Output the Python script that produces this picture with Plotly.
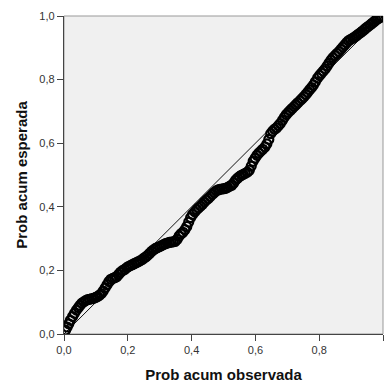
import plotly.graph_objects as go

obs = [0.005,0.010,0.015,0.020,0.027,0.033,0.039,0.045,0.050,0.056,0.062,0.068,0.074,0.080,0.087,0.093,0.099,0.105,0.111,0.117,
       0.123,0.129,0.135,0.141,0.147,0.153,0.159,0.165,0.171,0.177,0.183,0.190,0.196,0.202,0.208,0.214,0.220,0.226,0.232,0.238,
       0.245,0.251,0.257,0.263,0.269,0.275,0.281,0.287,0.293,0.300,0.306,0.312,0.318,0.324,0.330,0.336,0.342,0.348,0.355,0.361,
       0.367,0.373,0.379,0.385,0.391,0.397,0.403,0.410,0.416,0.422,0.428,0.434,0.440,0.446,0.452,0.458,0.465,0.471,0.477,0.483,
       0.489,0.495,0.501,0.507,0.513,0.520,0.526,0.532,0.538,0.544,0.550,0.556,0.562,0.568,0.575,0.581,0.587,0.593,0.599,0.605,
       0.611,0.617,0.623,0.630,0.636,0.642,0.648,0.654,0.660,0.666,0.672,0.678,0.685,0.691,0.697,0.703,0.709,0.715,0.721,0.727,
       0.733,0.740,0.746,0.752,0.758,0.764,0.770,0.776,0.782,0.788,0.795,0.801,0.807,0.813,0.819,0.825,0.831,0.837,0.843,0.850,
       0.856,0.862,0.868,0.874,0.880,0.886,0.892,0.898,0.905,0.911,0.917,0.923,0.929,0.935,0.941,0.947,0.953,0.960,0.966,0.972,
       0.978,0.984,0.990,0.996]

esp = [0.012,0.022,0.032,0.043,0.055,0.065,0.075,0.083,0.090,0.097,0.101,0.105,0.108,0.109,0.111,0.112,0.115,0.118,0.122,0.127,
       0.135,0.145,0.155,0.165,0.172,0.175,0.177,0.180,0.187,0.194,0.199,0.203,0.208,0.212,0.215,0.218,0.221,0.224,0.227,0.230,
       0.234,0.239,0.243,0.248,0.254,0.260,0.265,0.269,0.272,0.275,0.278,0.281,0.284,0.286,0.288,0.289,0.290,0.291,0.298,0.308,
       0.315,0.320,0.328,0.338,0.352,0.366,0.376,0.384,0.391,0.397,0.402,0.408,0.415,0.421,0.426,0.432,0.439,0.445,0.450,0.453,
       0.455,0.456,0.457,0.458,0.461,0.465,0.468,0.475,0.484,0.490,0.495,0.499,0.502,0.505,0.509,0.515,0.528,0.543,0.553,0.562,
       0.569,0.575,0.581,0.588,0.598,0.612,0.630,0.638,0.644,0.648,0.655,0.662,0.672,0.682,0.690,0.697,0.703,0.709,0.715,0.721,
       0.727,0.734,0.740,0.746,0.753,0.760,0.768,0.775,0.783,0.793,0.805,0.813,0.820,0.827,0.834,0.843,0.852,0.861,0.869,0.876,
       0.882,0.888,0.895,0.902,0.909,0.916,0.922,0.926,0.930,0.934,0.938,0.943,0.947,0.952,0.957,0.962,0.967,0.972,0.977,0.982,
       0.987,0.991,0.995,0.998]

ref_line = [0.0, 1.0]
tick_vals = [0.0, 0.2, 0.4, 0.6, 0.8, 1.0]
tick_text = ["0,0", "0,2", "0,4", "0,6", "0,8", "1,0"]

n = min(len(obs), len(esp))
fig = go.Figure()
fig.add_trace(go.Scatter(x=ref_line, y=ref_line, mode="lines", cliponaxis=True,
                         line=dict(color="#111111", width=1), hoverinfo="skip"))
fig.add_trace(go.Scatter(x=obs[:n], y=esp[:n], mode="markers", cliponaxis=True,
                         marker=dict(symbol="circle-open", size=9, color="black",
                                     line=dict(color="black", width=2.2))))

axis_common = dict(range=[0, 1], tickvals=tick_vals, ticktext=tick_text, automargin=False,
                   ticks="outside", ticklen=6, tickwidth=1.3, tickcolor="#444444",
                   showgrid=False, zeroline=False, showline=True, linecolor="#444444",
                   linewidth=1.3, tickfont=dict(family="Liberation Sans, Arial", size=11, color="#333333"),
                   fixedrange=True)

title_font = dict(family="Liberation Sans, Arial", size=15, color="#111111", weight="bold")

fig.update_layout(
    width=389, height=383,
    margin=dict(l=64, r=6, t=16, b=49),
    paper_bgcolor="white", plot_bgcolor="#F0F0F0",
    showlegend=False,
    xaxis=dict(**axis_common,
               title=dict(text="Prob acum observada", standoff=14, font=title_font)),
    yaxis=dict(**axis_common,
               title=dict(text="Prob acum esperada", standoff=8, font=title_font)),
    shapes=[dict(type="rect", xref="paper", yref="paper", x0=0, y0=0, x1=1, y1=1,
                 line=dict(color="#999999", width=1), layer="below")],
)

fig.write_html("out.html", config={"displayModeBar": False},
               post_script="document.body.style.margin='0';document.body.style.padding='0';")
